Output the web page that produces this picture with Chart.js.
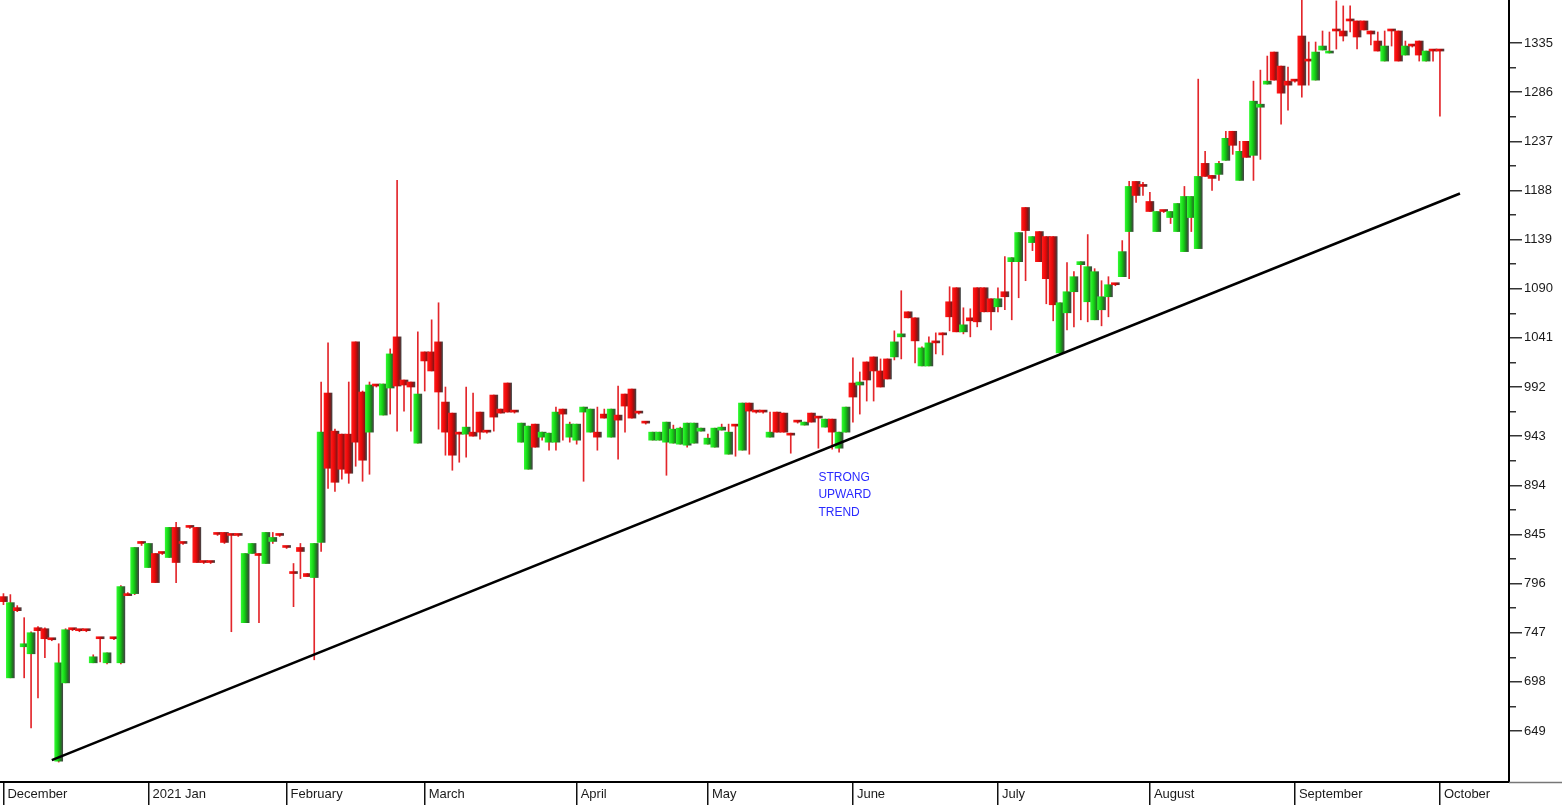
<!DOCTYPE html>
<html>
<head>
<meta charset="utf-8">
<title>Strong upward trend</title>
<script src="https://cdn.jsdelivr.net/npm/chart.js@4.4.1/dist/chart.umd.min.js"></script>
<style>
  html, body { margin: 0; padding: 0; background: #fff; overflow: hidden; }
  #wrap { position: relative; width: 1562px; height: 805px; }
</style>
</head>
<body>
<div id="wrap"><canvas id="chart"></canvas></div>
<script>
// ===================== DATA =====================
const opens = [
  783, 702, 772, 733, 726, 752, 751, 740, 619, 697,
  750, 749, 749, 717, 741, 717, 741, 717, 786, 786,
  837, 812, 826, 826, 822, 852, 836, 852, 852, 817,
  817, 845, 847, 844, 844, 757, 826, 826, 816, 838,
  844, 832, 808, 832, 806, 802, 837, 986, 948, 945,
  945, 1037, 987, 947, 993, 964, 991, 1042, 999, 997,
  936, 1027, 1027, 1037, 977, 966, 947, 945, 947, 967,
  947, 984, 970, 996, 967, 937, 910, 955, 942, 937,
  937, 970, 942, 939, 967, 947, 947, 965, 942, 964,
  985, 990, 966, 956, 939, 939, 937, 936, 935, 934,
  936, 948, 935, 932, 949, 925, 953, 929, 976, 967,
  967, 942, 967, 966, 946, 957, 954, 966, 961, 952,
  960, 931, 947, 996, 994, 1017, 1022, 1008, 1020, 1022,
  1042, 1067, 1061, 1013, 1013, 1036, 1046, 1077, 1091, 1047,
  1061, 1091, 1091, 1080, 1072, 1087, 1117, 1117, 1171, 1136,
  1147, 1142, 1142, 1026, 1066, 1087, 1114, 1077, 1059, 1069,
  1082, 1094, 1102, 1147, 1197, 1192, 1177, 1147, 1167, 1161,
  1147, 1127, 1161, 1130, 1215, 1203, 1204, 1218, 1247, 1198,
  1237, 1223, 1271, 1294, 1326, 1312, 1297, 1297, 1342, 1317,
  1298, 1328, 1325, 1347, 1347, 1357, 1357, 1357, 1347, 1337,
  1317, 1347, 1347, 1323, 1332, 1337, 1317, 1327, 1327
];
const highs = [
  786, 785, 774, 762, 748, 753, 752, 741, 736, 751,
  751, 750, 750, 725, 741, 727, 742, 794, 787, 832,
  838, 836, 826, 827, 852, 857, 837, 853, 852, 818,
  818, 846, 847, 845, 845, 826, 836, 826, 847, 847,
  845, 833, 816, 836, 806, 836, 997, 1036, 950, 945,
  997, 1037, 988, 997, 994, 995, 1030, 1198, 999, 997,
  1047, 1027, 1059, 1076, 992, 966, 947, 992, 986, 967,
  948, 984, 970, 996, 968, 956, 953, 955, 947, 946,
  972, 970, 957, 955, 972, 970, 972, 970, 970, 993,
  985, 990, 967, 957, 947, 947, 957, 954, 952, 956,
  956, 951, 945, 951, 955, 955, 953, 976, 976, 968,
  968, 967, 967, 966, 946, 958, 957, 966, 961, 960,
  960, 947, 972, 1021, 1007, 1017, 1022, 1020, 1020, 1048,
  1088, 1067, 1061, 1032, 1042, 1046, 1046, 1092, 1091, 1071,
  1070, 1091, 1091, 1080, 1091, 1122, 1121, 1146, 1171, 1142,
  1147, 1142, 1142, 1076, 1116, 1107, 1117, 1144, 1110, 1098,
  1102, 1095, 1138, 1197, 1197, 1196, 1186, 1167, 1168, 1167,
  1175, 1192, 1182, 1299, 1227, 1203, 1217, 1247, 1247, 1237,
  1237, 1297, 1308, 1322, 1326, 1312, 1311, 1298, 1380, 1336,
  1336, 1347, 1346, 1377, 1372, 1372, 1357, 1357, 1347, 1346,
  1347, 1347, 1347, 1337, 1333, 1337, 1327, 1327, 1327
];
const lows = [
  775, 702, 768, 702, 652, 682, 722, 739, 618, 697,
  749, 748, 748, 717, 718, 716, 740, 716, 784, 785,
  834, 812, 797, 825, 822, 797, 835, 851, 817, 816,
  816, 844, 836, 748, 843, 757, 826, 757, 816, 836,
  843, 831, 773, 801, 803, 720, 828, 891, 888, 900,
  896, 913, 898, 905, 992, 964, 965, 948, 968, 948,
  936, 988, 1008, 950, 924, 909, 917, 922, 943, 940,
  946, 948, 966, 967, 966, 937, 910, 932, 939, 929,
  929, 939, 937, 935, 898, 947, 929, 961, 942, 920,
  947, 961, 965, 955, 939, 939, 904, 936, 935, 932,
  936, 948, 935, 932, 949, 925, 923, 929, 925, 966,
  966, 942, 947, 947, 926, 956, 954, 957, 931, 952,
  930, 927, 947, 957, 965, 978, 978, 992, 1000, 1019,
  1020, 1061, 1016, 1013, 1013, 1025, 1024, 1048, 1047, 1045,
  1042, 1052, 1067, 1049, 1067, 1069, 1059, 1081, 1098, 1128,
  1117, 1075, 1058, 1025, 1049, 1052, 1059, 1057, 1059, 1053,
  1062, 1093, 1102, 1100, 1176, 1183, 1167, 1147, 1166, 1155,
  1147, 1127, 1147, 1130, 1202, 1188, 1198, 1218, 1224, 1198,
  1221, 1198, 1219, 1294, 1298, 1254, 1268, 1296, 1281, 1293,
  1298, 1328, 1325, 1329, 1337, 1346, 1329, 1348, 1333, 1327,
  1317, 1332, 1317, 1323, 1331, 1317, 1317, 1317, 1262
];
const closes = [
  778, 777, 769, 736, 747, 749, 741, 740, 717, 750,
  750, 749, 749, 723, 741, 727, 741, 793, 784, 832,
  836, 836, 797, 826, 852, 817, 836, 852, 817, 817,
  817, 845, 837, 844, 844, 826, 836, 824, 847, 842,
  844, 832, 806, 828, 803, 836, 947, 911, 897, 910,
  906, 937, 919, 994, 993, 995, 1025, 993, 994, 992,
  985, 1018, 1008, 987, 947, 924, 945, 952, 943, 947,
  947, 962, 966, 967, 967, 956, 953, 932, 947, 946,
  967, 965, 955, 955, 972, 970, 942, 961, 970, 959,
  973, 961, 966, 956, 947, 947, 957, 950, 951, 956,
  956, 951, 941, 951, 952, 947, 953, 976, 968, 967,
  967, 947, 947, 947, 944, 957, 957, 957, 961, 960,
  947, 947, 972, 982, 997, 999, 1008, 992, 1000, 1037,
  1045, 1061, 1038, 1031, 1036, 1036, 1044, 1062, 1047, 1054,
  1058, 1057, 1067, 1067, 1080, 1082, 1121, 1146, 1148, 1142,
  1117, 1100, 1074, 1076, 1087, 1102, 1117, 1112, 1107, 1082,
  1094, 1094, 1127, 1192, 1183, 1192, 1167, 1167, 1167, 1167,
  1175, 1182, 1182, 1202, 1202, 1200, 1215, 1240, 1233, 1227,
  1221, 1277, 1274, 1297, 1298, 1285, 1293, 1297, 1293, 1317,
  1326, 1332, 1327, 1347, 1342, 1357, 1341, 1348, 1344, 1327,
  1332, 1347, 1317, 1332, 1332, 1323, 1327, 1327, 1327
];

// month labels and the candle index of each first trading day
const monthNames = ["December", "2021 Jan", "February", "March", "April", "May",
  "June", "July", "August", "September", "October"];
const monthStart = [0, 21, 41, 61, 83, 102, 123, 144, 166, 187, 208];

// price axis labels
const yTicks = [649, 698, 747, 796, 845, 894, 943, 992, 1041, 1090, 1139, 1188, 1237, 1286, 1335];

// trend line: [candle index, price] at both ends
const trendStart = [7.0, 620];
const trendEnd = [210.9, 1185];

// annotation
const noteLines = ["STRONG", "UPWARD", "TREND"];
const noteAt = [118, 902];

// ===================== SETUP =====================
const FONT = '"Liberation Sans", Arial, sans-serif';
const Y_MIN = 598.15, Y_MAX = 1377.9;
const X_MIN = -0.5, X_MAX = 218;

const wickData = lows.map((l, i) => ({ x: i, y: [l, highs[i]] }));
const bodyData = opens.map((o, i) => ({ x: i, y: [o, closes[i]] }));
const minorTicks = yTicks.slice(1).map((v, i) => (v + yTicks[i]) / 2);

// gradient body: bright on the left, dark grey on the right edge
function bodyFill(c) {
  if (c.type !== "data") return "#16c816";
  const i = c.dataIndex;
  const up = closes[i] > opens[i];
  const xs = c.chart.scales.x;
  if (!xs || !c.chart.chartArea) return up ? "#16c816" : "#e00c0c";
  const px = xs.getPixelForValue(i);
  const g = c.chart.ctx.createLinearGradient(px - 4, 0, px + 4, 0);
  g.addColorStop(0, up ? "#30f830" : "#ff1a1a");
  g.addColorStop(0.4, up ? "#14d014" : "#e80808");
  g.addColorStop(0.75, up ? "#1f7a1f" : "#8a1414");
  g.addColorStop(1, "#444444");
  return g;
}

// ===================== PLUGIN =====================
const notePlugin = {
  id: "note",
  afterDraw(chart) {
    const { ctx, chartArea, scales: { x, y } } = chart;
    ctx.save();
    // grey continuation of the base line under the price labels
    ctx.strokeStyle = "#777";
    ctx.lineWidth = 1.5;
    ctx.beginPath();
    ctx.moveTo(chartArea.right, chartArea.bottom + 0.5);
    ctx.lineTo(chart.width, chartArea.bottom + 0.5);
    ctx.stroke();

    ctx.font = "12px " + FONT;
    ctx.fillStyle = "#2a2aff";
    ctx.textBaseline = "middle";
    ctx.textAlign = "left";
    const px = x.getPixelForValue(noteAt[0]);
    const py = y.getPixelForValue(noteAt[1]);
    noteLines.forEach((t, k) => ctx.fillText(t, px, py + k * 17.5));
    ctx.restore();
  }
};

// ===================== CHART =====================
new Chart(document.getElementById("chart"), {
  type: "bar",
  data: {
    datasets: [
      {
        type: "line",
        data: [{ x: trendStart[0], y: trendStart[1] }, { x: trendEnd[0], y: trendEnd[1] }],
        borderColor: "#000",
        borderWidth: 2.6,
        pointRadius: 0,
        fill: false,
        yAxisID: "y",
        order: 0
      },
      {
        data: bodyData,
        backgroundColor: bodyFill,
        borderWidth: 0,
        barThickness: 8,
        minBarLength: 2,
        grouped: false,
        yAxisID: "y",
        order: 1
      },
      {
        data: wickData,
        backgroundColor: "#e3262b",
        borderWidth: 0,
        barThickness: 1,
        grouped: false,
        yAxisID: "y",
        order: 2
      }
    ]
  },
  options: {
    responsive: true,
    maintainAspectRatio: false,
    animation: false,
    layout: { padding: 0 },
    plugins: {
      legend: { display: false },
      tooltip: { enabled: false }
    },
    scales: {
      x: {
        type: "linear",
        min: X_MIN,
        max: X_MAX,
        offset: false,
        grid: {
          offset: false,
          drawOnChartArea: false,
          drawTicks: true,
          tickLength: 23,
          color: "#111",
          lineWidth: 1.5
        },
        border: { display: true, color: "#000", width: 2 },
        ticks: {
          autoSkip: false,
          maxRotation: 0,
          align: "start",
          labelOffset: 4,
          padding: -18,
          color: "#1a1a1a",
          font: { family: FONT, size: 13 },
          callback: (v, i) => monthNames[i]
        },
        afterBuildTicks: s => { s.ticks = monthStart.map(v => ({ value: v })); },
        afterFit: s => { s.height = 23; s.paddingLeft = 0; s.paddingRight = 0; }
      },
      y: {
        type: "linear",
        position: "right",
        weight: 1,
        min: Y_MIN,
        max: Y_MAX,
        grid: {
          drawOnChartArea: false,
          drawTicks: true,
          tickLength: 13,
          color: "#333",
          lineWidth: 1.5
        },
        border: { display: true, color: "#000", width: 2 },
        ticks: {
          padding: 2,
          color: "#1a1a1a",
          font: { family: FONT, size: 13 },
          callback: v => String(v)
        },
        afterBuildTicks: s => { s.ticks = yTicks.map(v => ({ value: v })); },
        afterFit: s => { s.width = 53; s.paddingTop = 0; s.paddingBottom = 0; }
      },
      yMinor: {
        type: "linear",
        position: "right",
        weight: 0,
        min: Y_MIN,
        max: Y_MAX,
        grid: {
          drawOnChartArea: false,
          drawTicks: true,
          tickLength: 7,
          color: "#333",
          lineWidth: 1.5
        },
        border: { display: false },
        ticks: { display: false },
        afterBuildTicks: s => { s.ticks = minorTicks.map(v => ({ value: v })); },
        afterFit: s => { s.width = 0; s.paddingTop = 0; s.paddingBottom = 0; }
      }
    }
  },
  plugins: [notePlugin]
});
</script>
</body>
</html>
